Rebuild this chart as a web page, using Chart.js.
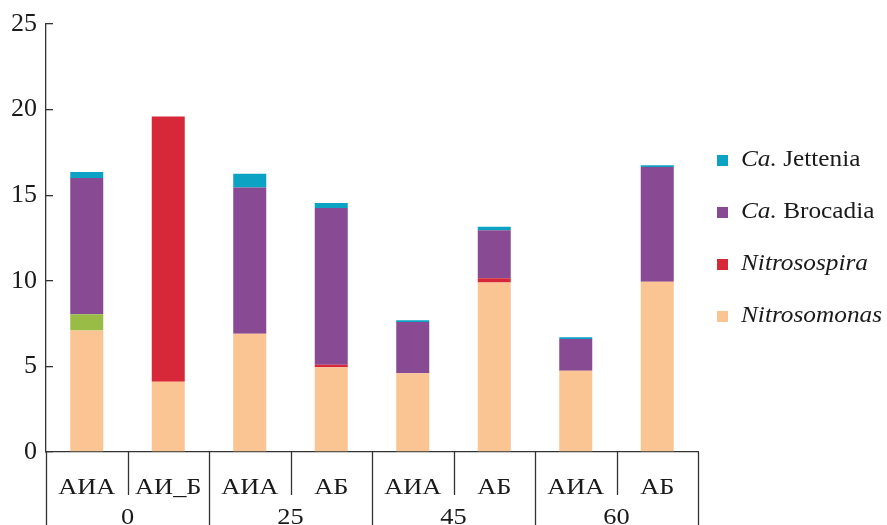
<!DOCTYPE html>
<html>
<head>
<meta charset="utf-8">
<script src="https://cdn.jsdelivr.net/npm/chart.js@4/dist/chart.umd.min.js"></script>
<style>
  html, body { margin: 0; padding: 0; background: #ffffff; }
  #wrap { width: 887px; height: 525px; }
</style>
</head>
<body>
<div id="wrap"><canvas id="c" width="887" height="525"></canvas></div>
<script>
// Sample labels: reactor type (lower row) and dose group (upper row)
const subLabels = ['АИА', 'АИ_Б', 'АИА', 'АБ', 'АИА', 'АБ', 'АИА', 'АБ'];
const groupLabels = ['0', '25', '45', '60'];
const groupSize = 2;
const yTicks = [0, 5, 10, 15, 20, 25];

// Relative abundance (%) of each genus, stacked bottom to top
const nitrosomonas = [7.1, 4.1, 6.9, 4.95, 4.6, 9.9, 4.75, 9.95];
const otherAob     = [0.95, 0, 0, 0, 0, 0, 0, 0];
const nitrosospira = [0, 15.5, 0, 0.15, 0, 0.25, 0, 0];
const brocadia     = [7.95, 0, 8.55, 9.15, 3.0, 2.8, 1.85, 6.7];
const jettenia     = [0.35, 0, 0.8, 0.3, 0.1, 0.2, 0.1, 0.1];

const COLORS = {
  nitrosomonas: '#FBC593',
  otherAob: '#98BC45',
  nitrosospira: '#D72839',
  brocadia: '#884A92',
  jettenia: '#0BA2C3'
};

const FONT = '"Liberation Serif", "DejaVu Serif", serif';
const AXIS_COLOR = '#333333';
const TEXT_COLOR = '#1a1a1a';
const STRETCH = 1.1; // wide-set serif lettering

// Legend entries: text runs (text, italic) and colour
const legendItems = [
  { parts: [['Ca.', true], [' Jettenia', false]], color: COLORS.jettenia },
  { parts: [['Ca.', true], [' Brocadia', false]], color: COLORS.brocadia },
  { parts: [['Nitrosospira', true]], color: COLORS.nitrosospira },
  { parts: [['Nitrosomonas', true]], color: COLORS.nitrosomonas }
];

function wideText(ctx, txt, x, y, align) {
  const w = ctx.measureText(txt).width * STRETCH;
  let x0 = x;
  if (align === 'center') x0 = x - w / 2;
  ctx.save();
  ctx.translate(x0, y);
  ctx.scale(STRETCH, 1);
  ctx.textAlign = 'left';
  ctx.fillText(txt, 0, 0);
  ctx.restore();
  return w;
}

// Two-row category axis with separators, plus the custom legend
const decorPlugin = {
  id: 'decor',
  afterDraw(chart) {
    const ctx = chart.ctx;
    const x = chart.scales.x;
    const area = chart.chartArea;
    const H = chart.height;
    const step = x.getPixelForValue(1) - x.getPixelForValue(0);
    const left = x.getPixelForValue(0) - step / 2;
    const base = area.bottom;

    ctx.save();
    ctx.strokeStyle = AXIS_COLOR;
    ctx.lineWidth = 1.3;
    // category boundaries
    for (let i = 1; i <= subLabels.length; i++) {
      const bx = Math.round(left + i * step) + 0.5;
      const long = (i % groupSize === 0);
      ctx.beginPath();
      ctx.moveTo(bx, base);
      ctx.lineTo(bx, long ? H : base + 43);
      ctx.stroke();
    }
    // left axis extends down through the label rows
    ctx.beginPath();
    ctx.moveTo(Math.round(left) + 0.5, base);
    ctx.lineTo(Math.round(left) + 0.5, H);
    ctx.stroke();

    ctx.fillStyle = TEXT_COLOR;
    ctx.textBaseline = 'middle';
    ctx.font = '24px ' + FONT;
    subLabels.forEach((lab, i) => {
      wideText(ctx, lab, x.getPixelForValue(i), base + 36, 'center');
    });
    groupLabels.forEach((lab, g) => {
      const cx = left + (g * groupSize + groupSize / 2) * step;
      wideText(ctx, lab, cx, base + 66, 'center');
    });

    // legend
    legendItems.forEach((item, k) => {
      const ly = 160 + k * 52;
      ctx.fillStyle = item.color;
      ctx.fillRect(717, ly - 5, 11, 11);
      let tx = 741;
      ctx.fillStyle = TEXT_COLOR;
      item.parts.forEach(([txt, ital]) => {
        ctx.font = (ital ? 'italic ' : '') + '23px ' + FONT;
        tx += wideText(ctx, txt, tx, ly, 'left');
      });
    });
    ctx.restore();
  }
};

const mk = (label, data, color) => ({
  label, data, backgroundColor: color, borderWidth: 0,
  categoryPercentage: 1.0, barPercentage: 0.405
});

new Chart(document.getElementById('c'), {
  type: 'bar',
  data: {
    labels: subLabels,
    datasets: [
      mk('Nitrosomonas', nitrosomonas, COLORS.nitrosomonas),
      mk('Other AOB', otherAob, COLORS.otherAob),
      mk('Nitrosospira', nitrosospira, COLORS.nitrosospira),
      mk('Ca. Brocadia', brocadia, COLORS.brocadia),
      mk('Ca. Jettenia', jettenia, COLORS.jettenia)
    ]
  },
  options: {
    responsive: false,
    animation: false,
    layout: { padding: { top: 24, right: 189, left: 0, bottom: 0 } },
    plugins: { legend: { display: false }, tooltip: { enabled: false } },
    scales: {
      x: {
        stacked: true,
        grid: { display: false, drawTicks: false },
        border: { display: true, color: AXIS_COLOR, width: 1.3 },
        ticks: { display: false },
        afterFit(s) { s.height = 73; }
      },
      y: {
        stacked: true,
        min: 0, max: 25,
        afterBuildTicks(s) { s.ticks = yTicks.map(v => ({ value: v })); },
        grid: { display: true, drawOnChartArea: false, drawTicks: true, tickLength: -7, color: AXIS_COLOR, lineWidth: 1.3 },
        border: { display: true, color: AXIS_COLOR, width: 1.3 },
        ticks: { color: TEXT_COLOR, font: { family: FONT, size: 26 }, padding: 16 },
        afterFit(s) { s.width = 46; s.paddingTop = 0; s.paddingBottom = 0; }
      }
    }
  },
  plugins: [decorPlugin]
});
</script>
</body>
</html>
